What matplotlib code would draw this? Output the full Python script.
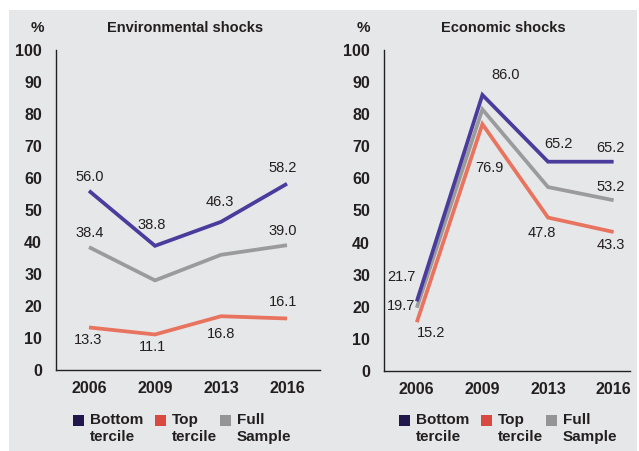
import matplotlib.pyplot as plt
from matplotlib.patches import Rectangle

# ---------------------------------------------------------------------
# Data (percent of households reporting shocks)
# ---------------------------------------------------------------------
years = ['2006', '2009', '2013', '2016']
series_names = ['Bottom\ntercile', 'Top\ntercile', 'Full\nSample']

env_bottom = [56.0, 38.8, 46.3, 58.2]
env_top = [13.3, 11.1, 16.8, 16.1]
env_full = [38.4, 28.0, 36.0, 39.0]

eco_bottom = [21.7, 86.0, 65.2, 65.2]
eco_top = [15.2, 76.9, 47.8, 43.3]
eco_full = [19.7, 81.5, 57.3, 53.2]

# which points carry a value label (index per series)
env_labelled = {'bottom': [0, 1, 2, 3], 'top': [0, 1, 2, 3], 'full': [0, 3]}
eco_labelled = {'bottom': [0, 1, 2, 3], 'top': [0, 1, 2, 3], 'full': [0, 3]}

# ---------------------------------------------------------------------
# Style
# ---------------------------------------------------------------------
W, H = 639, 451
line_colors = {'bottom': '#4a3c9c', 'top': '#e8735f', 'full': '#9b9b9d'}
patch_colors = ['#21174d', '#d84a3f', '#949497']
txt = '#231f20'
bold_font = ['Liberation Sans', 'DejaVu Sans']
plain_font = ['Liberation Sans', 'DejaVu Sans']

# label offsets in pixels (dx, dy) for each labelled point
env_offsets = {
    'bottom': [(1, 14), (-3, 21), (-1, 20), (-4, 16)],
    'top': [(-1, -13), (-2, -13), (0, -18), (-4, 16)],
    'full': [(1, 14), (-4, 14)],
}
eco_offsets = {
    'bottom': [(-15, 24), (23, 20), (10, 18), (-3, 14)],
    'top': [(14, -11), (7, -44), (-6, -15), (-3, -13)],
    'full': [(-16, 2), (-3, 13)],
}


def fx(px):
    return px / W


def fy(py):
    return 1 - py / H


fig = plt.figure(figsize=(W / 100, H / 100), dpi=100, facecolor='white')
fig.patches.append(Rectangle((fx(9), 0), fx(628), fy(10), transform=fig.transFigure,
                             facecolor='#e6e7e8', edgecolor='none', zorder=-10))


def panel(rect, xmax, title, title_x, pct_x, data, labelled, offsets, legend_x):
    ax = fig.add_axes(rect)
    ax.patch.set_alpha(0)
    x = range(len(years))
    for key, vals in data.items():
        ax.plot(x, vals, color=line_colors[key], lw=2.7, solid_joinstyle='miter',
                solid_capstyle='butt')
        for i, (dx, dy) in zip(labelled[key], offsets[key]):
            ax.annotate(f'{vals[i]:.1f}', xy=(i, vals[i]), xytext=(dx, dy),
                        textcoords='offset pixels', ha='center', va='center',
                        fontsize=10.5, color=txt, family=plain_font)
    ax.set_xlim(-0.5, xmax)
    ax.set_ylim(0, 100)
    ax.set_yticks(range(0, 101, 10))
    ax.set_xticks(list(x))
    ax.set_xticklabels(years)
    for s in ('top', 'right'):
        ax.spines[s].set_visible(False)
    for s in ('left', 'bottom'):
        ax.spines[s].set_linewidth(1.0)
        ax.spines[s].set_color('#222222')
    ax.tick_params(length=0, labelsize=11.5, labelcolor=txt)
    ax.tick_params(axis='y', pad=10)
    ax.tick_params(axis='x', pad=8)
    for lab in ax.get_xticklabels() + ax.get_yticklabels():
        lab.set_fontweight('bold')
        lab.set_family(bold_font)
    fig.text(fx(title_x), fy(28), title, ha='center', va='center', fontsize=10.5,
             fontweight='bold', color=txt, family=bold_font)
    fig.text(fx(pct_x), fy(28), '%', ha='center', va='center', fontsize=11,
             fontweight='bold', color=txt, family=bold_font)
    # legend: squares aligned with first text line
    for lx, name, col in zip(legend_x, series_names, patch_colors):
        fig.patches.append(Rectangle((fx(lx), fy(426)), fx(11), 11 / H,
                                     transform=fig.transFigure, facecolor=col,
                                     edgecolor='none'))
        fig.text(fx(lx + 17), fy(413), name, ha='left', va='top', fontsize=11,
                 fontweight='bold', color=txt, family=bold_font, linespacing=1.3)
    return ax


panel([fx(56), fy(370), fx(264), 320 / H], 3.5, 'Environmental shocks', 185, 37,
      {'full': env_full, 'top': env_top, 'bottom': env_bottom},
      env_labelled, env_offsets, [73, 155, 220])
panel([fx(384), fy(371), fx(246), 321 / H], 3.25, 'Economic shocks', 503, 363,
      {'full': eco_full, 'top': eco_top, 'bottom': eco_bottom},
      eco_labelled, eco_offsets, [399, 481, 546])

fig.savefig('out.png', dpi=100, facecolor='white')
